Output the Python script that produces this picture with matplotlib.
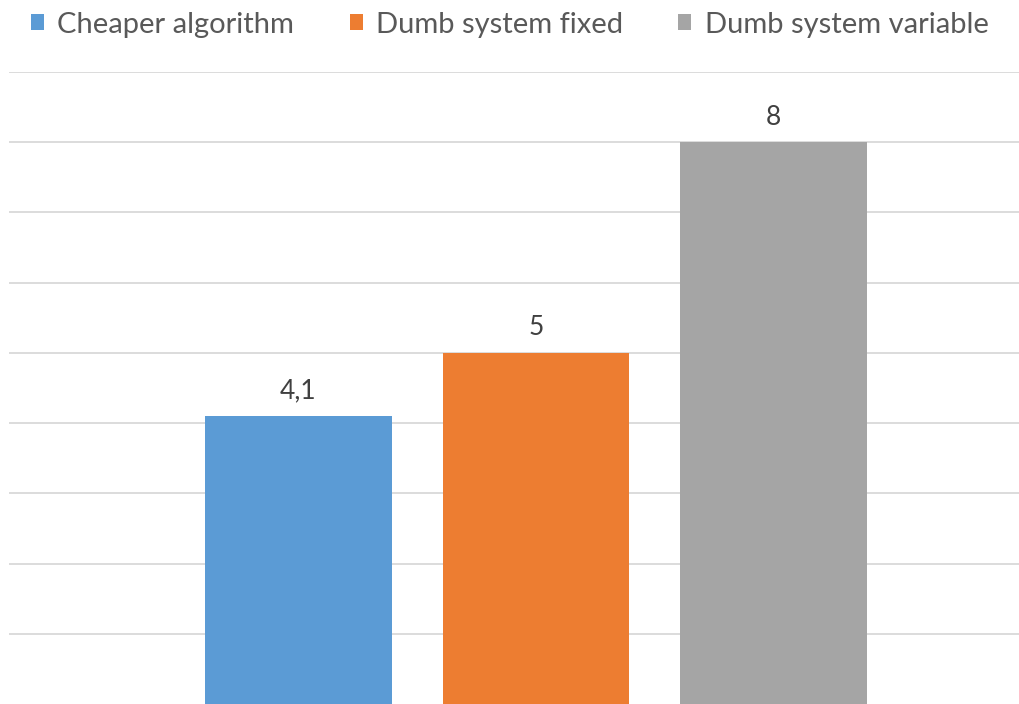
import matplotlib.pyplot as plt
import numpy as np
from matplotlib.patches import Patch

series = ["Cheaper algorithm", "Dumb system fixed", "Dumb system variable"]
values = [4.1, 5, 8]
colors = ["#5B9BD5", "#ED7D31", "#A5A5A5"]

plt.rcParams["font.family"] = ["Lato", "DejaVu Sans"]

fig = plt.figure(figsize=(10.19, 7.04), dpi=100)
ax = fig.add_axes([9 / 1019, 0.0, 1 - 9 / 1019, (704 - 72) / 704])

x = np.arange(len(series))
width = 0.787
bars = ax.bar(x, values, width, color=colors, zorder=2)

# value labels above each bar, comma as decimal separator
for bar, v in zip(bars, values):
    label = f"{v:g}".replace(".", ",")
    ax.annotate(label, (bar.get_x() + bar.get_width() / 2, v),
                xytext=(0, 9), textcoords="offset points",
                ha="center", va="bottom", fontsize=19, color="#404040")

ax.set_xlim(-1.219, 3.034)
ax.set_ylim(0, 9)
ax.set_yticks(np.arange(1, 10))
ax.yaxis.grid(True, color="#D9D9D9", linewidth=1.3, zorder=0)
ax.set_xticks([])
ax.tick_params(left=False, labelleft=False)
for s in ax.spines.values():
    s.set_visible(False)

handles = [Patch(facecolor=c, edgecolor="none") for c in colors]
fig.legend(handles, series, loc="upper left", bbox_to_anchor=(0.019, 1.0),
           ncol=3, frameon=False, fontsize=21, labelcolor="#595959",
           handlelength=0.45, handleheight=0.45, handletextpad=0.45,
           columnspacing=1.9, borderaxespad=0.0)

fig.savefig("out.png", dpi=100)
